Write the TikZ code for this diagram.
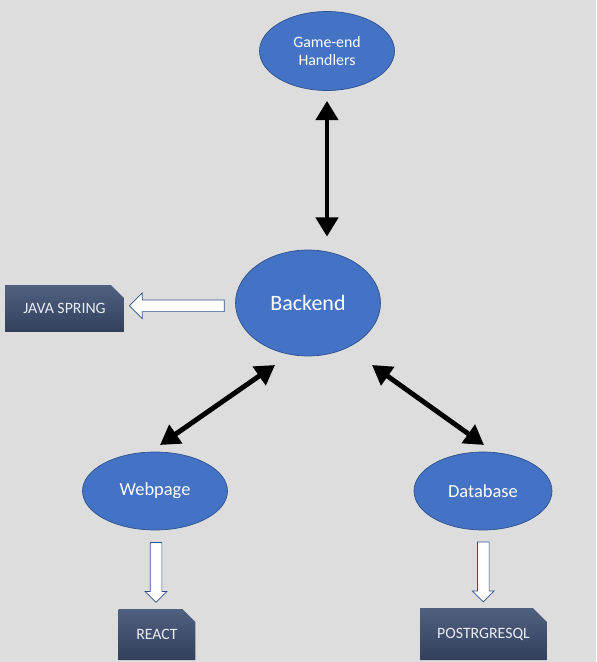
\documentclass[tikz,border=0pt]{standalone}
\usepackage{fontspec}
\setmainfont{Carlito}
\usetikzlibrary{arrows.meta, shapes.geometric, shapes.misc, shapes.arrows, calc}
\definecolor{bgcol}{RGB}{221,221,221}
\definecolor{ellfill}{RGB}{68,114,196}
\definecolor{ellline}{RGB}{47,82,143}
\definecolor{boxtop}{RGB}{80,96,128}
\definecolor{boxbot}{RGB}{50,64,92}
\definecolor{boxtext}{RGB}{232,236,242}

\begin{document}
\begin{tikzpicture}[x=0.02cm, y=-0.02cm,
    part/.style={ellipse, draw=ellline, fill=ellfill, text=white, inner sep=0pt, align=center},
    tool/.style={chamfered rectangle, chamfered rectangle corners=north east,
        chamfered rectangle xsep=0.18cm, chamfered rectangle ysep=0.16cm,
        top color=boxtop, bottom color=boxbot, text=boxtext, inner sep=0pt,
        font=\fontsize{9}{10}\selectfont},
    link/.style={line width=2.8pt, {Triangle[length=11pt,width=12.5pt]}-{Triangle[length=11pt,width=12.5pt]}},
    uses/.style={single arrow, draw=ellline, fill=white, inner sep=0.11cm,
        single arrow head indent=0pt}]
        \fill[bgcol] (0,0) rectangle (596,662);

        \node[part, minimum width=2.7cm, minimum height=1.58cm, font=\fontsize{9}{10}\selectfont] (handlers) at (327,51) {Game-end\\Handlers};
        \node[part, minimum width=2.9cm, minimum height=2.12cm, font=\fontsize{12.5}{14}\selectfont] (backend) at (308,303) {Backend};
        \node[part, minimum width=2.9cm, minimum height=1.56cm, font=\fontsize{10.5}{12}\selectfont] (webpage) at (155,491) {Webpage};
        \node[part, minimum width=2.76cm, minimum height=1.56cm, font=\fontsize{10.5}{12}\selectfont] (database) at (483,491) {Database};

        \node[tool, minimum width=2.38cm, minimum height=0.94cm] (spring) at (64.5,308.5) {JAVA SPRING};
        \node[tool, minimum width=1.54cm, minimum height=1.02cm] (react) at (157,634.5) {REACT};
        \node[tool, minimum width=2.54cm, minimum height=1.04cm] (postgres) at (483.5,634) {POSTRGRESQL};

        \draw[link] ([yshift=-0.2cm]handlers.south) -- ([yshift=0.26cm]handlers.south |- backend.north);
        \draw[link] ([shift={(5,-46)}]webpage.center) -- ([shift={(-33,62)}]backend.center);
        \draw[link] ([shift={(64,62)}]backend.center) -- ([shift={(1,-46)}]database.center);

        \node[uses, shape border rotate=180, minimum height=1.9cm, single arrow head extend=0.14cm] (a1)
            at ($(backend.west)!0.5!(spring.east)$) {};
        \node[uses, shape border rotate=270, minimum height=1.2cm, single arrow head extend=0.1cm] (a2)
            at ($(webpage.south)!0.5!(react.north)$) {};
        \node[uses, shape border rotate=270, minimum height=1.2cm, single arrow head extend=0.1cm] (a3)
            at ($(database.south)!0.5!(postgres.north)$) {};
    \end{tikzpicture}
\end{document}
